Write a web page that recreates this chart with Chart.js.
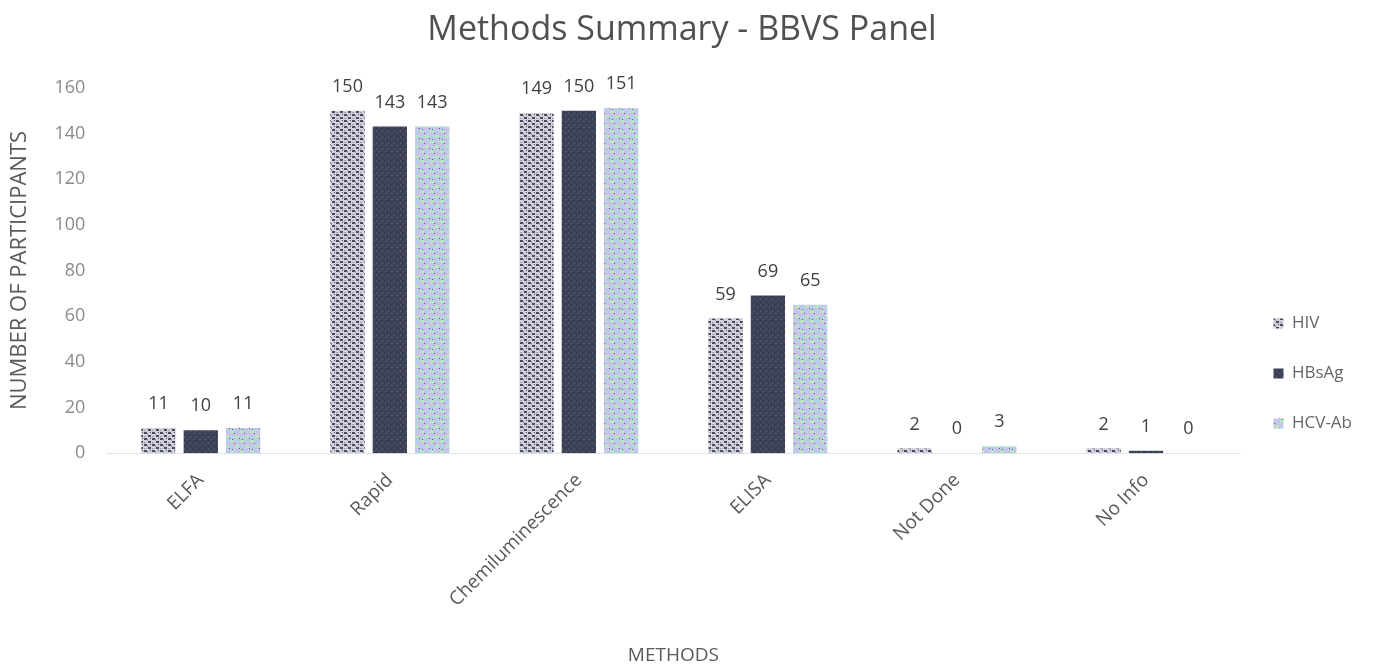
<!DOCTYPE html>
<html>
<head>
<meta charset="utf-8">
<script src="https://cdn.jsdelivr.net/npm/chart.js@4/dist/chart.umd.min.js"></script>
<style>
html,body{margin:0;padding:0;background:#fff;}
#wrap{width:1395px;height:667px;position:relative;}
</style>
</head>
<body>
<div id="wrap"><canvas id="c" width="1395" height="667"></canvas></div>
<script>
const categories = ["ELFA", "Rapid", "Chemiluminescence", "ELISA", "Not Done", "No Info"];
const hivValues = [11, 150, 149, 59, 2, 2];
const hbsagValues = [10, 143, 150, 69, 0, 1];
const hcvValues = [11, 143, 151, 65, 3, 0];
const seriesNames = ["HIV", "HBsAg", "HCV-Ab"];
const yTicks = [0, 20, 40, 60, 80, 100, 120, 140, 160];

function makePattern(kind) {
  const c = document.createElement('canvas');
  const ctx = c.getContext('2d');
  if (kind === 'hiv') {
    c.width = 8; c.height = 6;
    ctx.fillStyle = '#d2d2dc'; ctx.fillRect(0, 0, 8, 6);
    ctx.fillStyle = '#4a4a58';
    ctx.fillRect(0, 0, 3, 2); ctx.fillRect(4, 3, 3, 2); ctx.fillRect(6, 0, 1, 1);
    ctx.fillStyle = '#9a98b8';
    ctx.fillRect(3, 1, 1, 2); ctx.fillRect(0, 4, 2, 1);
  } else if (kind === 'hbs') {
    c.width = 6; c.height = 6;
    ctx.fillStyle = '#3e4258'; ctx.fillRect(0, 0, 6, 6);
    ctx.fillStyle = '#4f5a5e';
    ctx.fillRect(1, 1, 2, 1); ctx.fillRect(4, 4, 1, 2);
    ctx.fillStyle = '#33344a';
    ctx.fillRect(3, 2, 2, 1); ctx.fillRect(0, 4, 1, 1);
  } else {
    c.width = 10; c.height = 10;
    ctx.fillStyle = '#c9c2ea'; ctx.fillRect(0, 0, 10, 10);
    ctx.fillStyle = '#b4e6c0';
    ctx.fillRect(0, 0, 4, 3); ctx.fillRect(5, 5, 4, 3);
    ctx.fillStyle = '#a8d8e8';
    ctx.fillRect(6, 0, 3, 2); ctx.fillRect(1, 6, 3, 3);
    ctx.fillStyle = '#5a5e6a';
    ctx.fillRect(4, 3, 1, 1); ctx.fillRect(9, 8, 1, 1); ctx.fillRect(2, 9, 1, 1);
  }
  return document.getElementById('c').getContext('2d').createPattern(c, 'repeat');
}

const labelPlugin = {
  id: 'barLabels',
  afterDatasetsDraw(chart) {
    const ctx = chart.ctx;
    ctx.save();
    ctx.font = '18px "Open Sans", sans-serif';
    ctx.fillStyle = '#404040';
    ctx.textAlign = 'center';
    ctx.textBaseline = 'bottom';
    chart.data.datasets.forEach((ds, i) => {
      const meta = chart.getDatasetMeta(i);
      meta.data.forEach((bar, j) => {
        ctx.fillText(String(ds.data[j]), bar.x, bar.y - 15);
      });
    });
    ctx.restore();
  }
};

const fontFam = '"Open Sans", sans-serif';
new Chart(document.getElementById('c'), {
  type: 'bar',
  data: {
    labels: categories,
    datasets: [
      { label: seriesNames[0], data: hivValues, backgroundColor: makePattern('hiv') },
      { label: seriesNames[1], data: hbsagValues, backgroundColor: makePattern('hbs') },
      { label: seriesNames[2], data: hcvValues, backgroundColor: makePattern('hcv') }
    ]
  },
  options: {
    responsive: false,
    animation: false,
    categoryPercentage: 0.672,
    barPercentage: 0.81,
    layout: { padding: { left: 2, right: 33, top: 0, bottom: 0 } },
    plugins: {
      title: {
        display: true,
        text: 'Methods Summary - BBVS Panel',
        color: '#505050',
        font: { family: fontFam, size: 34, weight: 'normal' },
        padding: { top: 10, bottom: 37 }
      },
      legend: {
        position: 'right',
        title: { display: true, text: ' ', font: { size: 10 }, padding: { top: 68, bottom: 0 } },
        labels: {
          color: '#666',
          font: { family: fontFam, size: 17 },
          boxWidth: 10,
          boxHeight: 10,
          padding: 33
        }
      },
      tooltip: { enabled: false }
    },
    scales: {
      y: {
        min: 0, max: 160,
        afterBuildTicks(scale) { scale.ticks = yTicks.map(v => ({ value: v })); },
        grid: { display: false, drawTicks: false },
        border: { display: false },
        ticks: { color: '#8a8a8a', font: { family: fontFam, size: 18 }, padding: 21 },
        title: { display: true, text: 'NUMBER OF PARTICIPANTS', color: '#5a5a5a', font: { family: fontFam, size: 22 }, padding: { top: 5, bottom: 0 } }
      },
      x: {
        grid: { display: false },
        border: { display: true, color: '#dde6ea' },
        ticks: { color: '#5a5a5a', font: { family: fontFam, size: 19 }, maxRotation: 45, minRotation: 45, padding: 8 },
        title: { display: true, text: 'METHODS', color: '#5a5a5a', font: { family: fontFam, size: 19 }, padding: { top: 25, bottom: 0 } }
      }
    }
  },
  plugins: [labelPlugin]
});
</script>
</body>
</html>
